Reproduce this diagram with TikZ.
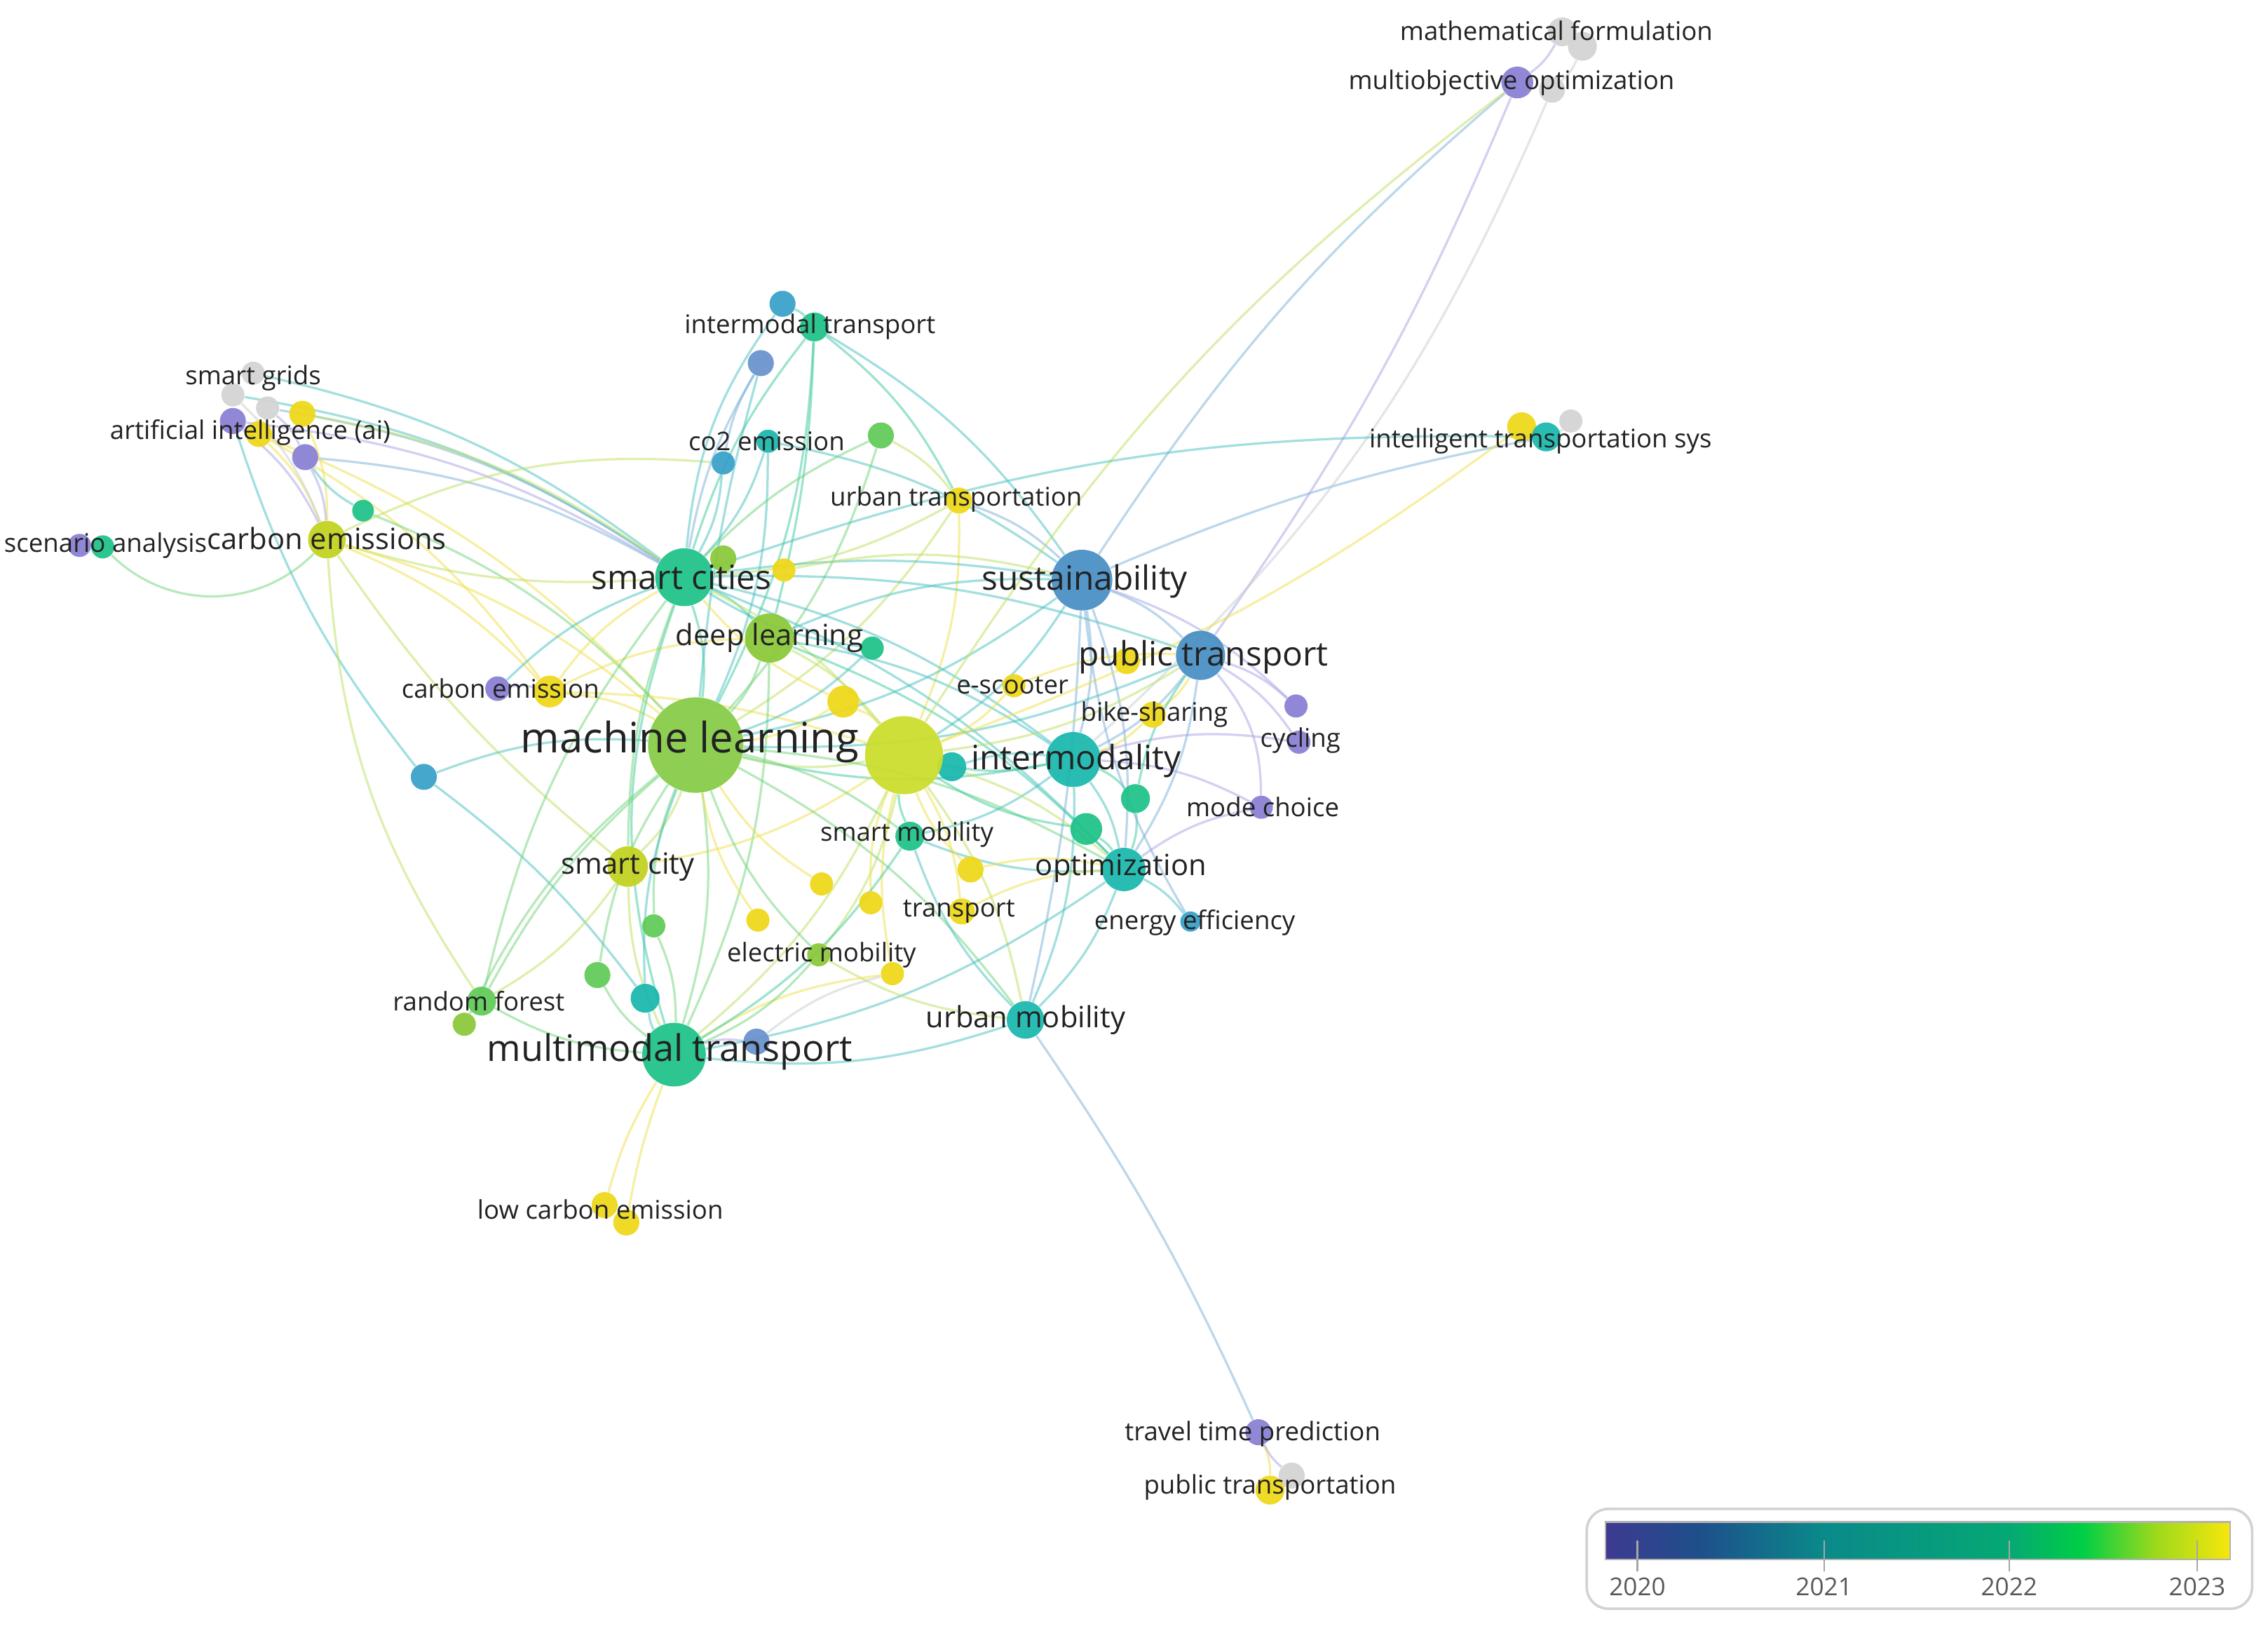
\documentclass[tikz,border=0pt]{standalone}
\usepackage{fontspec}
\setmainfont{Open Sans}
\pgfdeclarelayer{edges}
\pgfsetlayers{edges,main}
% node colours
\definecolor{nY}{HTML}{EED81C}
\definecolor{nYG}{HTML}{CBDD2E}
\definecolor{nCE}{HTML}{C3D322}
\definecolor{nML}{HTML}{88CC4A}
\definecolor{nDL}{HTML}{8CC93C}
\definecolor{nG}{HTML}{62CB5A}
\definecolor{nTG}{HTML}{22C28A}
\definecolor{nT}{HTML}{1DB8AE}
\definecolor{nB}{HTML}{4A90C4}
\definecolor{nLB}{HTML}{3AA2C8}
\definecolor{nBP}{HTML}{6A93CE}
\definecolor{nP}{HTML}{8A82D4}
\definecolor{nGr}{HTML}{D4D4D4}
% edge colours
\definecolor{eY}{HTML}{EDE04A}
\definecolor{eYG}{HTML}{BCE060}
\definecolor{eG}{HTML}{6FD37A}
\definecolor{eTG}{HTML}{3CC9A0}
\definecolor{eT}{HTML}{47BFC0}
\definecolor{eB}{HTML}{7AAFD8}
\definecolor{eP}{HTML}{A8A2E4}
\definecolor{eGr}{HTML}{C8CCD0}
\definecolor{txt}{HTML}{222222}
% legend colours
\definecolor{v0}{HTML}{3E3A90}
\definecolor{v1}{HTML}{1E4F8B}
\definecolor{v2}{HTML}{0A8A8A}
\definecolor{v3}{HTML}{05A874}
\definecolor{v4}{HTML}{00CF45}
\definecolor{v5}{HTML}{9CD91C}
\definecolor{v6}{HTML}{F8E60C}
\newcommand\fsML{\fontsize{16.5}{19}\selectfont}
\newcommand\fsMT{\fontsize{14.4}{17}\selectfont}
\newcommand\fsL{\fontsize{13.2}{15}\selectfont}
\newcommand\fsM{\fontsize{11.5}{14}\selectfont}
\newcommand\fsS{\fontsize{10.1}{12}\selectfont}
\newcommand\fsLeg{\fontsize{9.7}{11}\selectfont}
\tikzset{
  kw/.style={circle, inner sep=0pt, draw=none, opacity=0.95},
  lab/.style={inner sep=0pt, text=txt, anchor=center},
  lnk/.style={line width=0.9pt, opacity=0.5, bend left=12},
}
\newcommand\kw[5]{\node[kw, fill=#4, minimum size=#5mm] (#1) at (#2,#3) {};}
\newcommand\E[3][]{\draw[lnk,#1] (#2) to (#3);}
\begin{document}
\begin{tikzpicture}[x=0.2mm,y=-0.2mm]
\useasboundingbox (0,0) rectangle (1568,1127);
% ---------------- keyword nodes ----------------
\kw{sg1}{175}{258}{nGr}{3.2}
\kw{sg2}{161}{273}{nGr}{3.2}
\kw{sg3}{185}{282}{nGr}{3.2}
\kw{aiy}{209}{286}{nY}{3.6}
\kw{aip}{161}{291}{nP}{3.6}
\kw{ai}{179}{300}{nY}{3.6}
\kw{aipb}{211}{316}{nP}{3.6}
\kw{ga}{251}{353}{nTG}{3.0}
\kw{ce}{226}{373}{nCE}{5.2}
\kw{sap}{55}{377}{nP}{3.2}
\kw{sa}{71}{378}{nTG}{3.2}
\kw{cep}{344}{476}{nP}{3.4}
\kw{cey}{380}{478}{nY}{4.4}
\kw{bla}{293}{537}{nLB}{3.6}
\kw{itb}{541}{210}{nLB}{3.6}
\kw{it}{563}{226}{nTG}{4.0}
\kw{itbb}{526}{251}{nBP}{3.6}
\kw{coa}{531}{305}{nT}{3.2}
\kw{cob}{500}{320}{nLB}{3.2}
\kw{gb}{609}{301}{nG}{3.6}
\kw{ut}{663}{346}{nY}{3.6}
\kw{sc}{473}{399}{nTG}{8.0}
\kw{scg}{500}{386}{nDL}{3.6}
\kw{scyl}{542}{394}{nY}{3.2}
\kw{dl}{532}{441}{nDL}{6.8}
\kw{dlg}{603}{448}{nTG}{3.2}
\kw{su}{748}{401}{nB}{8.4}
\kw{pt}{830}{453}{nB}{6.8}
\kw{pty}{779}{457}{nY}{3.6}
\kw{es}{701}{474}{nY}{3.2}
\kw{ya}{583}{485}{nY}{4.4}
\kw{bs}{797}{494}{nY}{3.6}
\kw{cyp}{896}{488}{nP}{3.2}
\kw{cy}{898}{513}{nP}{3.2}
\kw{ml}{481}{515}{nML}{13.2}
\kw{tl}{658}{530}{nT}{4.0}
\kw{yg}{625}{522}{nYG}{10.8}
\kw{im}{742}{525}{nT}{7.6}
\kw{gc}{785}{552}{nTG}{4.0}
\kw{mc}{872}{558}{nP}{3.2}
\kw{gd}{751}{573}{nTG}{4.4}
\kw{sm}{629}{578}{nTG}{4.0}
\kw{op}{777}{601}{nT}{6.0}
\kw{scity}{434}{599}{nCE}{5.6}
\kw{yb}{671}{601}{nY}{3.6}
\kw{yc}{568}{611}{nY}{3.2}
\kw{yd}{602}{624}{nY}{3.2}
\kw{tr}{665}{630}{nY}{3.6}
\kw{ee}{823}{637}{nLB}{2.8}
\kw{ge}{452}{640}{nG}{3.2}
\kw{ye}{524}{636}{nY}{3.2}
\kw{em}{566}{660}{nDL}{3.2}
\kw{yf}{617}{673}{nY}{3.2}
\kw{gf}{413}{674}{nG}{3.6}
\kw{tb}{446}{690}{nT}{4.0}
\kw{rf}{333}{692}{nG}{4.0}
\kw{rfb}{321}{708}{nDL}{3.2}
\kw{um}{709}{705}{nT}{5.2}
\kw{mt}{466}{729}{nTG}{8.8}
\kw{mtb}{523}{720}{nBP}{3.6}
\kw{lce}{418}{833}{nY}{3.6}
\kw{lceb}{433}{845}{nY}{3.6}
\kw{ttp}{870}{990}{nP}{3.6}
\kw{ptng}{893}{1020}{nGr}{3.6}
\kw{ptn}{878}{1030}{nY}{4.0}
\kw{itsy}{1052}{295}{nY}{4.0}
\kw{itsg}{1086}{291}{nGr}{3.2}
\kw{its}{1069}{302}{nT}{4.0}
\kw{mfa}{1080}{22}{nGr}{4.0}
\kw{mfb}{1094}{32}{nGr}{4.0}
\kw{mog}{1073}{62}{nGr}{3.6}
\kw{mo}{1049}{57}{nP}{4.4}
% ---------------- links ----------------
\begin{pgfonlayer}{edges}
\E[eT]{sg1}{sc}
\E[eT]{sg2}{sc}
\E[eB]{sg3}{sc}
\E[eYG]{aiy}{sc}
\E[eP]{aip}{sc}
\E[eB]{aipb}{sc}
\E[eY]{ai}{ml}
\E[eY]{ai}{cey}
\E[eY]{aiy}{ce}
\E[eY]{ai}{ce}
\E[eP]{aip}{ce}
\E[eP]{aipb}{ce}
\E[eGr]{sg2}{ce}
\E[eP]{sg3}{aipb}
\E[eT,bend right=10]{aip}{bla}
\E[eT]{ga}{aipb}
\E[eG]{ga}{ml}
\E[eYG,bend right=10]{ce}{sc}
\E[eY]{ce}{ml}
\E[eYG,bend right=8]{ce}{scity}
\E[eY]{ce}{cey}
\E[eYG,bend right=15]{ce}{rf}
\E[eYG,bend left=15]{ce}{cob}
\E[eG,bend right=45]{sa}{ce}
\E[eP]{sap}{sa}
\E[eP]{cep}{cey}
\E[eY]{cey}{ml}
\E[eY]{cey}{sc}
\E[eY,bend left=8]{cey}{yg}
\E[eY]{cey}{dl}
\E[eT]{bla}{ml}
\E[eT,bend left=8]{bla}{tb}
\E[eT]{cep}{sc}
\E[eTG,bend right=10]{it}{sc}
\E[eT]{it}{su}
\E[eTG]{it}{ut}
\E[eTG,bend left=6]{it}{dl}
\E[eT,bend right=15]{itb}{sc}
\E[eB,bend right=10]{itbb}{sc}
\E[eB,bend right=10]{itbb}{cob}
\E[eT,bend right=5]{itbb}{ml}
\E[eTG]{it}{ml}
\E[eT]{itb}{it}
\E[eT]{coa}{sc}
\E[eT]{coa}{ml}
\E[eT]{cob}{sc}
\E[eT]{coa}{su}
\E[eYG]{gb}{ut}
\E[eG,bend right=10]{gb}{sc}
\E[eG]{gb}{ml}
\E[eYG]{ut}{sc}
\E[eB]{ut}{su}
\E[eYG]{ut}{ml}
\E[eY]{ut}{yg}
\E[eT,bend left=8]{sc}{su}
\E[eTG]{sc}{ml}
\E[eTG]{sc}{dl}
\E[eYG]{sc}{yg}
\E[eT]{sc}{im}
\E[eT,bend left=10]{sc}{pt}
\E[eTG,bend right=18]{sc}{mt}
\E[eG,bend right=10]{sc}{scity}
\E[eT]{sc}{op}
\E[eYG]{scyl}{su}
\E[eG]{dl}{ml}
\E[eYG]{dl}{yg}
\E[eT]{dl}{im}
\E[eT]{dl}{su}
\E[eTG]{dl}{op}
\E[eG]{dl}{mt}
\E[eB]{su}{pt}
\E[eB]{su}{im}
\E[eB]{su}{op}
\E[eB,bend left=5]{su}{um}
\E[eT]{su}{ml}
\E[eT]{su}{yg}
\E[eB,bend left=6]{su}{its}
\E[eB,bend left=8]{su}{mo}
\E[eP]{su}{cyp}
\E[eB]{pt}{im}
\E[eB]{pt}{op}
\E[eP]{pt}{cy}
\E[eP]{pt}{cyp}
\E[eP,bend left=20]{pt}{mc}
\E[eY]{pt}{bs}
\E[eYG]{pt}{yg}
\E[eT]{pt}{ml}
\E[eP,bend left=6]{mo}{pt}
\E[eYG,bend right=10]{mo}{yg}
\E[eGr,bend left=12]{mog}{im}
\E[eP]{mfa}{mo}
\E[eGr]{mfb}{mog}
\E[eT,bend right=10]{its}{sc}
\E[eY,bend left=8]{itsy}{yg}
\E[eY]{itsy}{its}
\E[eGr]{itsg}{its}
\E[eTG]{im}{yg}
\E[eTG]{im}{ml}
\E[eT]{im}{op}
\E[eT]{im}{um}
\E[eP]{im}{mc}
\E[eTG]{im}{gc}
\E[eP]{im}{cy}
\E[eT]{im}{sm}
\E[eYG]{yg}{ml}
\E[eYG]{yg}{op}
\E[eYG]{yg}{um}
\E[eYG]{yg}{mt}
\E[eY]{yg}{scity}
\E[eY]{yg}{tr}
\E[eYG]{yg}{em}
\E[eG]{ml}{mt}
\E[eYG]{ml}{scity}
\E[eG]{ml}{op}
\E[eG]{ml}{sm}
\E[eG,bend right=10]{ml}{rf}
\E[eG]{ml}{um}
\E[eT]{op}{um}
\E[eT]{op}{ee}
\E[eP]{op}{mc}
\E[eT]{op}{mt}
\E[eT]{op}{sm}
\E[eT]{um}{mt}
\E[eB,bend left=5]{um}{ttp}
\E[eT]{um}{sm}
\E[eYG]{um}{em}
\E[eG]{mt}{rf}
\E[eG]{mt}{gf}
\E[eT]{mt}{tb}
\E[eP]{mt}{mtb}
\E[eY,bend right=8]{mt}{lce}
\E[eY,bend right=5]{mt}{lceb}
\E[eYG]{mt}{scity}
\E[eY]{mt}{yf}
\E[eGr]{mtb}{yf}
\E[eY]{ttp}{ptn}
\E[eP]{ptng}{ttp}
\E[eY]{ya}{ml}
\E[eY]{ya}{yg}
\E[eY]{ya}{sc}
\E[eY]{yb}{yg}
\E[eY]{yb}{op}
\E[eY]{yc}{ml}
\E[eY]{yd}{yg}
\E[eY]{ye}{ml}
\E[eY]{yf}{yg}
\E[eY]{tr}{op}
\E[eY]{es}{yg}
\E[eY]{es}{pt}
\E[eY]{bs}{im}
\E[eTG]{gc}{op}
\E[eTG]{gd}{op}
\E[eTG]{gd}{yg}
\E[eTG]{gc}{pt}
\E[eTG]{sm}{yg}
\E[eTG]{sm}{mt}
\E[eG]{ge}{ml}
\E[eG]{ge}{mt}
\E[eG]{gf}{ml}
\E[eT]{tb}{ml}
\E[eG]{rf}{sc}
\E[eG]{rfb}{ml}
\E[eG]{em}{ml}
\E[eG]{em}{mt}
\E[eT]{tl}{yg}
\E[eT]{tl}{im}
\E[eB]{ee}{su}
\E[eT]{dlg}{sc}
\E[eT]{dlg}{ml}
\E[eYG]{scity}{rf}
\end{pgfonlayer}
% ---------------- labels ----------------
\node[lab,font=\fsS] (Lmf) at (1076,21) {mathematical formulation};
\node[lab,font=\fsS] (Lmo) at (1045,57) {multiobjective optimization};
\node[lab,font=\fsS] (Lits) at (1065,305) {intelligent transportation sys};
\node[lab,font=\fsS] (Lsg) at (175,261) {smart grids};
\node[lab,font=\fsS] (Lai) at (173,299) {artificial intelligence (ai)};
\node[lab,font=\fsS] (Lsa) at (73,377) {scenario analysis};
\node[lab,font=\fsM] (Lce) at (226,372) {carbon emissions};
\node[lab,font=\fsS] (Lit) at (560,226) {intermodal transport};
\node[lab,font=\fsS] (Lco) at (530,305) {co2 emission};
\node[lab,font=\fsS] (Lut) at (661,345) {urban transportation};
\node[lab,font=\fsL] (Lsc) at (471,399) {smart cities};
\node[lab,font=\fsL] (Lsu) at (750,402) {sustainability};
\node[lab,font=\fsM] (Ldl) at (532,441) {deep learning};
\node[lab,font=\fsL] (Lpt) at (832,454) {public transport};
\node[lab,font=\fsS] (Lcep) at (346,476) {carbon emission};
\node[lab,font=\fsS] (Les) at (700,474) {e-scooter};
\node[lab,font=\fsS] (Lbs) at (798,494) {bike-sharing};
\node[lab,font=\fsS] (Lcy) at (899,512) {cycling};
\node[lab,font=\fsML] (Lml) at (477,513) {machine learning};
\node[lab,font=\fsL] (Lim) at (744,526) {intermodality};
\node[lab,font=\fsS] (Lmc) at (873,558) {mode choice};
\node[lab,font=\fsS] (Lsm) at (627,577) {smart mobility};
\node[lab,font=\fsM] (Lop) at (775,600) {optimization};
\node[lab,font=\fsM] (Lscity) at (434,599) {smart city};
\node[lab,font=\fsS] (Ltr) at (663,630) {transport};
\node[lab,font=\fsS] (Lee) at (826,638) {energy efficiency};
\node[lab,font=\fsS] (Lem) at (568,660) {electric mobility};
\node[lab,font=\fsS] (Lrf) at (331,692) {random forest};
\node[lab,font=\fsM] (Lum) at (709,705) {urban mobility};
\node[lab,font=\fsMT] (Lmt) at (463,727) {multimodal transport};
\node[lab,font=\fsS] (Llce) at (415,836) {low carbon emission};
\node[lab,font=\fsS] (Lttp) at (866,991) {travel time prediction};
\node[lab,font=\fsS] (Lptn) at (878,1028) {public transportation};
% ---------------- legend ----------------
\draw[gray!35, line width=1pt, rounded corners=3mm] (1097,1043) rectangle (1557,1112);
\shade[left color=v0, right color=v1] (1110,1052) rectangle (1175,1078);
\shade[left color=v1, right color=v2] (1175,1052) rectangle (1261,1078);
\shade[left color=v2, right color=v3] (1261,1052) rectangle (1389,1078);
\shade[left color=v3, right color=v4] (1389,1052) rectangle (1440,1078);
\shade[left color=v4, right color=v5] (1440,1052) rectangle (1490,1078);
\shade[left color=v5, right color=v6] (1490,1052) rectangle (1542,1078);
\draw[gray!60, line width=0.6pt] (1110,1052) rectangle (1542,1078);
\foreach \xx/\yy in {1132/2020,1261/2021,1389/2022,1519/2023}{
  \draw[gray!70, line width=0.6pt] (\xx,1065) -- (\xx,1086);
  \node[lab, text=black!65, font=\fsLeg] at (\xx,1097) {\yy};
}
\end{tikzpicture}
\end{document}
